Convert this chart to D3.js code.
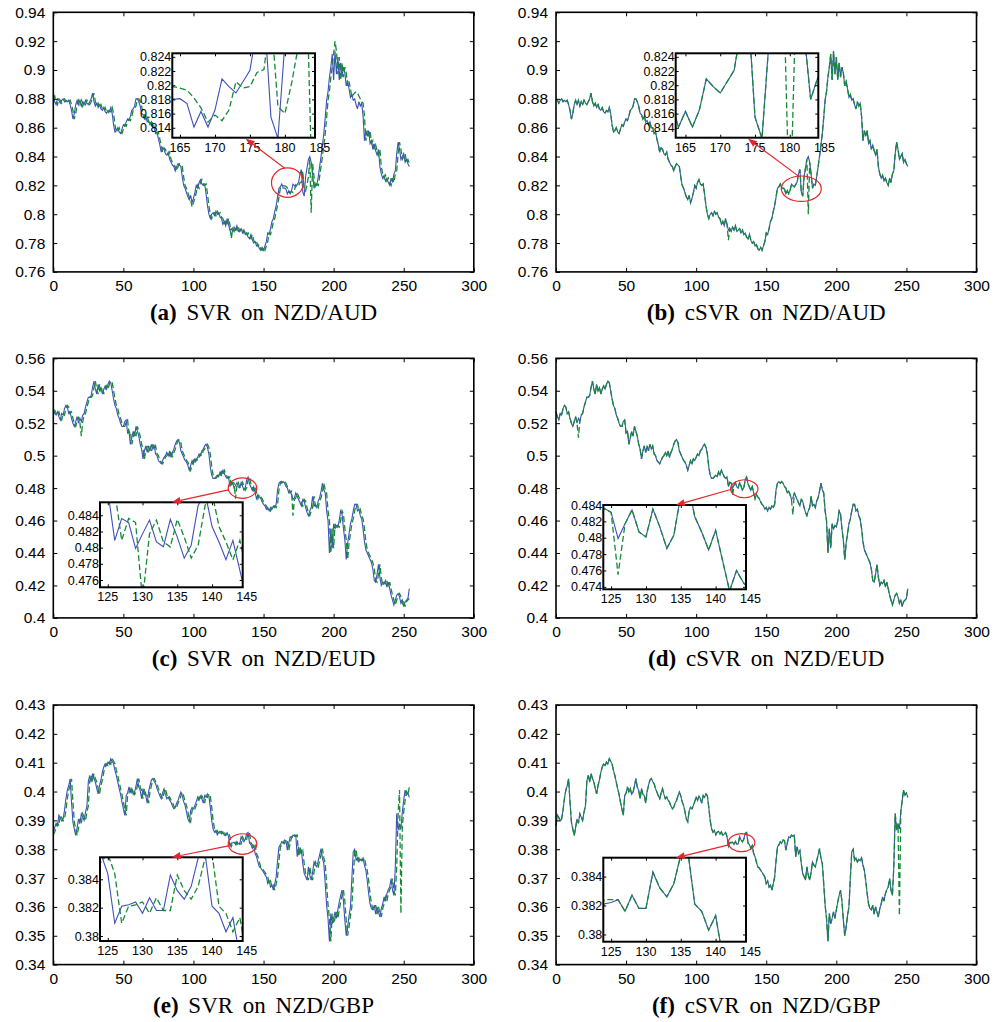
<!DOCTYPE html>
<html>
<head>
<meta charset="utf-8">
<script src="https://cdn.jsdelivr.net/npm/d3@7"></script>
<style>
  body { margin: 0; background: #fff; }
  svg { font-family: "Liberation Sans", Arial, sans-serif; }
</style>
</head>
<body>
<svg id="fig" width="1003" height="1022"></svg>
<script>
// Tick values
var xTicks = [0, 50, 100, 150, 200, 250, 300];
var audTicks = [0.76, 0.78, 0.8, 0.82, 0.84, 0.86, 0.88, 0.9, 0.92, 0.94];
var eudTicks = [0.4, 0.42, 0.44, 0.46, 0.48, 0.5, 0.52, 0.54, 0.56];
var gbpTicks = [0.34, 0.35, 0.36, 0.37, 0.38, 0.39, 0.4, 0.41, 0.42, 0.43];
var audInsetX = [165, 170, 175, 180, 185];
var audInsetY = [0.814, 0.816, 0.818, 0.82, 0.822, 0.824];
var eudInsetX = [125, 130, 135, 140, 145];
var eudSvrInsetY = [0.476, 0.478, 0.48, 0.482, 0.484];
var eudCsvrInsetY = [0.474, 0.476, 0.478, 0.48, 0.482, 0.484];
var gbpInsetY = [0.38, 0.382, 0.384];

// NZD/AUD actual rate, day 0..254
var audActual = [
0.882,0.878,0.876,0.880,0.879,0.877,0.879,0.880,0.878,0.879,
0.878,0.879,0.876,0.872,0.866,0.870,0.876,0.879,0.876,0.879,
0.875,0.878,0.876,0.879,0.877,0.876,0.878,0.880,0.884,0.878,
0.875,0.877,0.874,0.876,0.873,0.872,0.874,0.871,0.870,0.872,
0.871,0.874,0.870,0.862,0.857,0.858,0.860,0.857,0.856,0.859,
0.862,0.861,0.864,0.866,0.865,0.868,0.872,0.873,0.875,0.880,
0.880,0.878,0.875,0.870,0.869,0.866,0.868,0.864,0.865,0.862,
0.864,0.860,0.860,0.856,0.857,0.852,0.848,0.843,0.846,0.845,
0.842,0.841,0.843,0.838,0.836,0.834,0.833,0.830,0.833,0.835,
0.834,0.833,0.826,0.820,0.818,0.815,0.812,0.810,0.813,0.808,
0.811,0.815,0.820,0.818,0.822,0.824,0.821,0.820,0.821,0.814,
0.806,0.800,0.797,0.800,0.801,0.799,0.802,0.800,0.801,0.798,
0.797,0.793,0.795,0.792,0.797,0.793,0.789,0.790,0.788,0.791,
0.789,0.792,0.788,0.789,0.790,0.787,0.789,0.786,0.787,0.784,
0.783,0.786,0.782,0.780,0.781,0.778,0.779,0.776,0.775,0.777,
0.775,0.778,0.781,0.787,0.786,0.790,0.795,0.797,0.802,0.806,
0.812,0.818,0.819,0.821,0.818,0.8181,0.8174,0.8141,0.8163,0.8141,
0.8165,0.8209,0.8198,0.8189,0.8205,0.8221,0.828,0.831,0.8155,0.8125,
0.826,0.832,0.838,0.840,0.836,0.828,0.818,0.821,0.820,0.826,
0.833,0.840,0.848,0.856,0.867,0.879,0.885,0.895,0.902,0.911,
0.893,0.913,0.897,0.909,0.893,0.905,0.895,0.902,0.898,0.889,
0.892,0.887,0.881,0.883,0.879,0.880,0.876,0.873,0.878,0.875,
0.877,0.868,0.851,0.858,0.854,0.858,0.849,0.851,0.845,0.848,
0.844,0.841,0.845,0.833,0.828,0.825,0.827,0.823,0.825,0.822,
0.820,0.825,0.822,0.828,0.830,0.842,0.850,0.845,0.838,0.840,
0.842,0.836,0.838,0.835,0.833];

// NZD/AUD, SVR prediction
var audSvr = [
0.880,0.882,0.878,0.876,0.880,0.879,0.877,0.879,0.880,0.878,
0.879,0.878,0.879,0.876,0.872,0.866,0.870,0.876,0.879,0.876,
0.879,0.875,0.878,0.876,0.879,0.877,0.876,0.878,0.880,0.884,
0.878,0.875,0.877,0.874,0.876,0.873,0.872,0.874,0.871,0.870,
0.872,0.871,0.874,0.870,0.862,0.857,0.858,0.860,0.857,0.856,
0.859,0.862,0.861,0.864,0.866,0.865,0.868,0.872,0.873,0.875,
0.880,0.880,0.878,0.875,0.870,0.869,0.866,0.868,0.864,0.865,
0.862,0.864,0.860,0.860,0.856,0.857,0.852,0.848,0.843,0.846,
0.845,0.842,0.841,0.843,0.838,0.836,0.834,0.833,0.830,0.833,
0.835,0.834,0.833,0.826,0.820,0.818,0.815,0.812,0.810,0.805,
0.808,0.811,0.815,0.820,0.818,0.822,0.824,0.821,0.820,0.821,
0.814,0.806,0.800,0.797,0.800,0.801,0.799,0.802,0.800,0.801,
0.798,0.797,0.793,0.795,0.792,0.797,0.793,0.783,0.790,0.788,
0.791,0.789,0.792,0.788,0.789,0.790,0.787,0.789,0.786,0.787,
0.784,0.783,0.786,0.782,0.780,0.781,0.778,0.779,0.776,0.775,
0.777,0.775,0.778,0.781,0.787,0.786,0.790,0.795,0.797,0.802,
0.806,0.812,0.818,0.819,0.8198,0.8196,0.8193,0.8182,0.8168,0.8148,
0.8158,0.8150,0.8165,0.8205,0.8196,0.8198,0.8218,0.8222,0.8300,0.8170,
0.8160,0.8205,0.8260,0.8380,0.8010,0.8350,0.826,0.818,0.821,0.820,
0.826,0.833,0.840,0.848,0.856,0.867,0.879,0.885,0.895,0.902,
0.911,0.920,0.913,0.897,0.909,0.893,0.905,0.895,0.902,0.898,
0.889,0.892,0.887,0.881,0.883,0.884,0.885,0.884,0.882,0.880,
0.878,0.877,0.868,0.851,0.858,0.854,0.858,0.849,0.851,0.845,
0.848,0.844,0.841,0.845,0.833,0.828,0.825,0.827,0.823,0.825,
0.822,0.820,0.825,0.822,0.828,0.830,0.842,0.850,0.845,0.838,
0.840,0.842,0.836,0.838,0.835];

// NZD/AUD, cSVR prediction (starts 3 days later)
var audCsvr = [
0.880,0.879,0.877,0.879,0.880,0.878,0.879,0.878,0.879,0.876,
0.872,0.866,0.870,0.876,0.879,0.876,0.879,0.875,0.878,0.876,
0.879,0.877,0.876,0.878,0.880,0.884,0.878,0.875,0.877,0.874,
0.876,0.873,0.872,0.874,0.871,0.870,0.872,0.871,0.874,0.870,
0.862,0.857,0.858,0.860,0.857,0.856,0.859,0.862,0.861,0.864,
0.866,0.865,0.868,0.872,0.873,0.875,0.880,0.880,0.878,0.875,
0.870,0.869,0.866,0.868,0.864,0.865,0.862,0.864,0.860,0.860,
0.856,0.857,0.852,0.848,0.843,0.846,0.845,0.842,0.841,0.843,
0.838,0.836,0.834,0.833,0.830,0.833,0.835,0.834,0.833,0.826,
0.820,0.818,0.815,0.812,0.810,0.813,0.808,0.811,0.815,0.820,
0.818,0.822,0.824,0.821,0.820,0.821,0.814,0.806,0.800,0.797,
0.800,0.801,0.799,0.802,0.800,0.801,0.798,0.797,0.793,0.795,
0.792,0.797,0.793,0.782,0.790,0.788,0.791,0.789,0.792,0.788,
0.789,0.790,0.787,0.789,0.786,0.787,0.784,0.783,0.786,0.782,
0.780,0.781,0.778,0.779,0.776,0.775,0.777,0.775,0.778,0.781,
0.787,0.786,0.790,0.795,0.797,0.802,0.806,0.812,0.818,0.819,
0.821,0.818,0.8181,0.8174,0.8141,0.8163,0.8141,0.8165,0.8209,0.8198,
0.8189,0.8205,0.8221,0.828,0.831,0.8155,0.8125,0.826,0.832,0.838,
0.800,0.836,0.828,0.818,0.821,0.820,0.826,0.833,0.840,0.848,
0.856,0.867,0.879,0.885,0.895,0.902,0.911,0.893,0.913,0.897,
0.909,0.893,0.905,0.895,0.902,0.898,0.889,0.892,0.887,0.881,
0.883,0.879,0.880,0.876,0.873,0.878,0.875,0.877,0.868,0.851,
0.858,0.854,0.858,0.849,0.851,0.845,0.848,0.844,0.841,0.845,
0.833,0.828,0.825,0.827,0.823,0.825,0.822,0.820,0.825,0.822,
0.828,0.830,0.842,0.850,0.845,0.838,0.840,0.842,0.836,0.838,
0.835,0.833];

// NZD/EUD actual rate
var eudActual = [
0.528,0.526,0.525,0.527,0.524,0.522,0.526,0.525,0.529,0.531,
0.530,0.526,0.527,0.523,0.520,0.518,0.521,0.524,0.520,0.523,
0.521,0.525,0.526,0.530,0.533,0.536,0.536,0.537,0.542,0.546,
0.541,0.538,0.544,0.540,0.542,0.538,0.541,0.543,0.541,0.544,
0.546,0.545,0.540,0.535,0.531,0.529,0.525,0.523,0.520,0.518,
0.518,0.521,0.522,0.514,0.515,0.507,0.511,0.515,0.512,0.518,
0.515,0.512,0.507,0.504,0.498,0.503,0.506,0.502,0.506,0.503,
0.507,0.504,0.506,0.501,0.500,0.497,0.496,0.495,0.497,0.499,
0.500,0.502,0.500,0.503,0.499,0.502,0.504,0.507,0.509,0.510,
0.508,0.503,0.501,0.499,0.497,0.496,0.494,0.491,0.494,0.497,
0.495,0.498,0.497,0.499,0.501,0.500,0.503,0.504,0.506,0.507,
0.505,0.501,0.493,0.488,0.486,0.486,0.487,0.488,0.487,0.490,
0.488,0.491,0.489,0.487,0.486,0.487,0.4809,0.4836,0.4831,0.4799,
0.4817,0.4834,0.4807,0.4801,0.4835,0.4813,0.4787,0.4803,0.4852,0.4868,
0.4826,0.4807,0.4785,0.4809,0.4772,0.4735,0.4760,0.4745,0.4735,0.4715,
0.470,0.469,0.467,0.468,0.466,0.468,0.467,0.469,0.468,0.470,
0.479,0.483,0.484,0.483,0.484,0.483,0.481,0.480,0.477,0.478,
0.476,0.473,0.474,0.477,0.475,0.473,0.471,0.469,0.473,0.472,
0.468,0.465,0.463,0.466,0.468,0.475,0.469,0.470,0.468,0.472,
0.474,0.478,0.483,0.479,0.477,0.466,0.460,0.440,0.455,0.443,
0.458,0.455,0.457,0.456,0.460,0.466,0.464,0.455,0.448,0.436,
0.446,0.452,0.458,0.461,0.466,0.470,0.470,0.466,0.467,0.463,
0.461,0.455,0.447,0.442,0.440,0.438,0.436,0.434,0.430,0.423,
0.422,0.427,0.433,0.425,0.420,0.422,0.421,0.423,0.419,0.422,
0.418,0.414,0.411,0.408,0.411,0.414,0.415,0.413,0.409,0.411,
0.407,0.410,0.411,0.412,0.418];

var eudSvr = [
0.527,0.528,0.526,0.525,0.527,0.524,0.522,0.526,0.525,0.529,
0.531,0.530,0.526,0.527,0.523,0.520,0.518,0.521,0.524,0.520,
0.512,0.521,0.525,0.526,0.530,0.533,0.536,0.536,0.537,0.542,
0.546,0.541,0.538,0.544,0.540,0.542,0.538,0.541,0.543,0.541,
0.544,0.546,0.545,0.540,0.535,0.531,0.529,0.525,0.523,0.520,
0.518,0.518,0.521,0.522,0.514,0.515,0.507,0.511,0.515,0.512,
0.518,0.515,0.512,0.507,0.504,0.498,0.503,0.506,0.502,0.506,
0.503,0.507,0.504,0.506,0.501,0.500,0.497,0.496,0.495,0.497,
0.499,0.500,0.502,0.500,0.503,0.499,0.502,0.504,0.507,0.509,
0.510,0.508,0.503,0.501,0.499,0.497,0.496,0.494,0.491,0.494,
0.497,0.495,0.498,0.497,0.499,0.501,0.500,0.503,0.504,0.506,
0.507,0.505,0.501,0.493,0.488,0.486,0.486,0.487,0.488,0.487,
0.490,0.488,0.491,0.489,0.487,0.486,0.487,0.4809,0.4836,0.4831,
0.4735,0.4817,0.4834,0.4807,0.4801,0.4835,0.4813,0.4787,0.4803,0.4852,
0.4868,0.4826,0.4807,0.4785,0.4809,0.4772,0.4735,0.4760,0.4745,0.4735,
0.4715,0.470,0.469,0.467,0.468,0.466,0.468,0.467,0.469,0.468,
0.470,0.479,0.483,0.484,0.483,0.484,0.483,0.481,0.480,0.477,
0.478,0.463,0.473,0.474,0.477,0.475,0.473,0.471,0.469,0.473,
0.472,0.468,0.465,0.463,0.466,0.468,0.475,0.469,0.470,0.468,
0.472,0.474,0.478,0.483,0.479,0.477,0.466,0.460,0.440,0.455,
0.443,0.458,0.455,0.457,0.456,0.460,0.466,0.464,0.455,0.448,
0.436,0.446,0.452,0.458,0.461,0.466,0.470,0.470,0.466,0.467,
0.463,0.461,0.455,0.447,0.442,0.440,0.438,0.436,0.434,0.430,
0.423,0.422,0.427,0.433,0.425,0.420,0.422,0.421,0.423,0.419,
0.422,0.418,0.414,0.411,0.408,0.411,0.414,0.415,0.413,0.409,
0.411,0.407,0.410,0.411,0.412];

var eudCsvr = [
0.527,0.524,0.522,0.526,0.525,0.529,0.531,0.530,0.526,0.527,
0.523,0.520,0.518,0.521,0.524,0.520,0.511,0.521,0.525,0.526,
0.530,0.533,0.536,0.536,0.537,0.542,0.546,0.541,0.538,0.544,
0.540,0.542,0.538,0.541,0.543,0.541,0.544,0.546,0.545,0.540,
0.535,0.531,0.529,0.525,0.523,0.520,0.518,0.518,0.521,0.522,
0.514,0.515,0.507,0.511,0.515,0.512,0.518,0.515,0.512,0.507,
0.504,0.498,0.503,0.506,0.502,0.506,0.503,0.507,0.504,0.506,
0.501,0.500,0.497,0.496,0.495,0.497,0.499,0.500,0.502,0.500,
0.503,0.499,0.502,0.504,0.507,0.509,0.510,0.508,0.503,0.501,
0.499,0.497,0.496,0.494,0.491,0.494,0.497,0.495,0.498,0.497,
0.499,0.501,0.500,0.503,0.504,0.506,0.507,0.505,0.501,0.493,
0.488,0.486,0.486,0.487,0.488,0.487,0.490,0.488,0.491,0.489,
0.487,0.486,0.487,0.4809,0.4836,0.4831,0.4755,0.4817,0.4834,0.4807,
0.4801,0.4835,0.4813,0.4787,0.4803,0.4852,0.4868,0.4826,0.4807,0.4785,
0.4809,0.4772,0.4735,0.4760,0.4745,0.4735,0.4715,0.470,0.469,0.467,
0.468,0.466,0.468,0.467,0.469,0.468,0.470,0.479,0.483,0.484,
0.483,0.484,0.483,0.481,0.480,0.477,0.478,0.476,0.473,0.4635,
0.477,0.475,0.473,0.471,0.469,0.473,0.472,0.468,0.465,0.463,
0.466,0.468,0.475,0.469,0.470,0.468,0.472,0.474,0.478,0.483,
0.479,0.477,0.466,0.460,0.440,0.455,0.443,0.458,0.455,0.457,
0.456,0.460,0.466,0.464,0.455,0.448,0.436,0.446,0.452,0.458,
0.461,0.466,0.470,0.470,0.466,0.467,0.463,0.461,0.455,0.447,
0.442,0.440,0.438,0.436,0.434,0.430,0.423,0.422,0.427,0.433,
0.425,0.420,0.422,0.421,0.423,0.419,0.422,0.418,0.414,0.411,
0.408,0.411,0.414,0.415,0.413,0.409,0.411,0.407,0.410,0.411,
0.412,0.418];

// NZD/GBP actual rate
var gbpActual = [
0.3860,0.3875,0.3890,0.3882,0.3918,0.3910,0.3898,0.3905,0.3935,0.3975,
0.4005,0.4020,0.4044,0.3963,0.3894,0.3870,0.3848,0.3875,0.3905,0.3890,
0.3923,0.3911,0.3900,0.3929,0.3950,0.4035,0.4056,0.4033,0.4062,0.4045,
0.4033,0.4010,0.3992,0.4021,0.4040,0.4067,0.4085,0.4096,0.4090,0.4102,
0.4095,0.4114,0.4105,0.4096,0.4073,0.4055,0.4033,0.4010,0.3990,0.3963,
0.3940,0.3917,0.3986,0.3995,0.4016,0.3998,0.4010,0.3990,0.3998,0.4020,
0.4045,0.4015,0.4004,0.3975,0.4010,0.3990,0.3986,0.3960,0.4000,0.4021,
0.4040,0.4045,0.4035,0.4027,0.4010,0.3998,0.3985,0.3975,0.3995,0.4010,
0.3990,0.3975,0.3981,0.3970,0.3963,0.3950,0.3940,0.3946,0.3960,0.3969,
0.3985,0.3998,0.3985,0.3965,0.3952,0.3930,0.3905,0.3895,0.3934,0.3945,
0.3940,0.3952,0.3965,0.3981,0.3970,0.3985,0.3975,0.3960,0.3986,0.3980,
0.3992,0.3985,0.3946,0.3900,0.3871,0.3859,0.3865,0.3850,0.3859,0.3862,
0.3853,0.3860,0.3848,0.3852,0.3858,0.3844,0.3809,0.3821,0.3822,0.3824,
0.3816,0.3827,0.3818,0.3818,0.3843,0.3832,0.3826,0.3835,0.3855,0.3858,
0.3821,0.3816,0.3803,0.3813,0.3785,0.3774,0.3755,0.3739,0.3735,0.3727,
0.3720,0.3712,0.3704,0.3681,0.3690,0.3669,0.3675,0.3658,0.3680,0.3704,
0.3760,0.3808,0.3815,0.3826,0.3820,0.3832,0.3830,0.3797,0.3820,0.3843,
0.3840,0.3849,0.3845,0.3849,0.3774,0.3808,0.3785,0.3795,0.3750,0.3716,
0.3705,0.3693,0.3739,0.3710,0.3693,0.3720,0.3756,0.3745,0.3739,0.3760,
0.3780,0.3802,0.3770,0.3750,0.3680,0.3606,0.3560,0.3480,0.3577,0.3542,
0.3560,0.3583,0.3560,0.3590,0.3617,0.3640,0.3658,0.3620,0.3554,0.3500,
0.3531,0.3570,0.3600,0.3700,0.3791,0.3800,0.3762,0.3770,0.3756,0.3765,
0.3760,0.3770,0.3745,0.3727,0.3690,0.3646,0.3610,0.3594,0.3590,0.3606,
0.3575,0.3600,0.3583,0.3565,0.3594,0.3610,0.3635,0.3620,0.3646,0.3660,
0.3669,0.3698,0.3658,0.3640,0.3739,0.3924,0.3866,0.3889,0.3870,0.3930,
0.3970,0.4005,0.3988,0.3995,0.3980];

var gbpSvr = [
0.3850,0.3860,0.3875,0.3890,0.3882,0.3918,0.3910,0.3898,0.3905,0.3935,
0.3975,0.4005,0.4020,0.4044,0.3963,0.3894,0.3870,0.3848,0.3875,0.3905,
0.3890,0.3923,0.3911,0.3900,0.3929,0.3950,0.4035,0.4056,0.4033,0.4062,
0.4045,0.4033,0.4010,0.3992,0.4021,0.4040,0.4067,0.4085,0.4096,0.4090,
0.4102,0.4095,0.4114,0.4105,0.4096,0.4073,0.4055,0.4033,0.4010,0.3990,
0.3963,0.3940,0.3917,0.3986,0.3995,0.4016,0.3998,0.4010,0.3990,0.3998,
0.4020,0.4045,0.4015,0.4004,0.3975,0.4010,0.3990,0.3986,0.3960,0.4000,
0.4021,0.4040,0.4045,0.4035,0.4027,0.4010,0.3998,0.3985,0.3975,0.3995,
0.4010,0.3990,0.3975,0.3981,0.3970,0.3963,0.3950,0.3940,0.3946,0.3960,
0.3969,0.3985,0.3998,0.3985,0.3965,0.3952,0.3930,0.3905,0.3895,0.3934,
0.3945,0.3940,0.3952,0.3965,0.3981,0.3970,0.3985,0.3975,0.3960,0.3986,
0.3980,0.3992,0.3985,0.3946,0.3900,0.3871,0.3859,0.3865,0.3850,0.3859,
0.3862,0.3853,0.3860,0.3848,0.3852,0.3858,0.3844,0.3809,0.3821,0.3822,
0.3824,0.3816,0.3827,0.3818,0.3818,0.3843,0.3832,0.3826,0.3835,0.3855,
0.3858,0.3821,0.3816,0.3803,0.3813,0.3785,0.3774,0.3755,0.3739,0.3735,
0.3727,0.3720,0.3712,0.3704,0.3681,0.3690,0.3669,0.3675,0.3658,0.3680,
0.3704,0.3760,0.3808,0.3815,0.3826,0.3820,0.3832,0.3830,0.3797,0.3820,
0.3843,0.3840,0.3849,0.3845,0.3849,0.3774,0.3808,0.3785,0.3795,0.3750,
0.3716,0.3705,0.3693,0.3739,0.3710,0.3693,0.3720,0.3756,0.3745,0.3739,
0.3760,0.3780,0.3802,0.3770,0.3750,0.3680,0.3606,0.3560,0.3480,0.3577,
0.3542,0.3560,0.3583,0.3560,0.3590,0.3617,0.3640,0.3658,0.3620,0.3554,
0.3500,0.3531,0.3570,0.3600,0.3700,0.3791,0.3800,0.3762,0.3770,0.3756,
0.3765,0.3760,0.3770,0.3745,0.3727,0.3690,0.3646,0.3610,0.3594,0.3590,
0.3606,0.3575,0.3600,0.3583,0.3565,0.3594,0.3610,0.3635,0.3620,0.3646,
0.3660,0.3669,0.3698,0.3658,0.3640,0.3739,0.3924,0.4005,0.3577,0.3880,
0.3930,0.3970,0.4000,0.3990,0.4015];

var gbpCsvr = [
0.3882,0.3918,0.3910,0.3898,0.3905,0.3935,0.3975,0.4005,0.4020,0.4044,
0.3963,0.3894,0.3870,0.3848,0.3875,0.3905,0.3890,0.3923,0.3911,0.3900,
0.3929,0.3950,0.4035,0.4056,0.4033,0.4062,0.4045,0.4033,0.4010,0.3992,
0.4021,0.4040,0.4067,0.4085,0.4096,0.4090,0.4102,0.4095,0.4114,0.4105,
0.4096,0.4073,0.4055,0.4033,0.4010,0.3990,0.3963,0.3940,0.3917,0.3986,
0.3995,0.4016,0.3998,0.4010,0.3990,0.3998,0.4020,0.4045,0.4015,0.4004,
0.3975,0.4010,0.3990,0.3986,0.3960,0.4000,0.4021,0.4040,0.4045,0.4035,
0.4027,0.4010,0.3998,0.3985,0.3975,0.3995,0.4010,0.3990,0.3975,0.3981,
0.3970,0.3963,0.3950,0.3940,0.3946,0.3960,0.3969,0.3985,0.3998,0.3985,
0.3965,0.3952,0.3930,0.3905,0.3895,0.3934,0.3945,0.3940,0.3952,0.3965,
0.3981,0.3970,0.3985,0.3975,0.3960,0.3986,0.3980,0.3992,0.3985,0.3946,
0.3900,0.3871,0.3859,0.3865,0.3850,0.3859,0.3862,0.3853,0.3860,0.3848,
0.3852,0.3858,0.3844,0.3809,0.3824,0.3824,0.3824,0.3816,0.3827,0.3818,
0.3818,0.3843,0.3832,0.3826,0.3835,0.3855,0.3858,0.3821,0.3816,0.3803,
0.3813,0.3785,0.3774,0.3755,0.3739,0.3735,0.3727,0.3720,0.3712,0.3704,
0.3681,0.3690,0.3669,0.3675,0.3658,0.3680,0.3704,0.3760,0.3808,0.3815,
0.3826,0.3820,0.3832,0.3830,0.3797,0.3820,0.3843,0.3840,0.3849,0.3845,
0.3849,0.3774,0.3808,0.3785,0.3795,0.3750,0.3716,0.3705,0.3693,0.3739,
0.3710,0.3693,0.3720,0.3756,0.3745,0.3739,0.3760,0.3780,0.3802,0.3770,
0.3750,0.3680,0.3606,0.3560,0.3480,0.3577,0.3542,0.3560,0.3583,0.3560,
0.3590,0.3617,0.3640,0.3658,0.3620,0.3554,0.3500,0.3531,0.3570,0.3600,
0.3700,0.3791,0.3800,0.3762,0.3770,0.3756,0.3765,0.3760,0.3770,0.3745,
0.3727,0.3690,0.3646,0.3610,0.3594,0.3590,0.3606,0.3575,0.3600,0.3583,
0.3565,0.3594,0.3610,0.3635,0.3620,0.3646,0.3660,0.3669,0.3698,0.3658,
0.3640,0.3739,0.3924,0.3866,0.3889,0.3570,0.3930,0.3970,0.4005,0.3988,
0.3995,0.3980];

// colours of the figure
var colBlue = "#3f4fbb";
var colGreen = "#148a38";
var colRed = "#e2262b";

// panel grid
var colX = [53.3, 556];
var rowY = [12.3, 358.3, 705];
var plotW = 420.5;
var plotH = 259.6;

// one entry per sub figure
var panels = [
  { tag: "(a)", title: "SVR on NZD/AUD", actual: audActual, pred: audSvr, lag: 0, col: 0, row: 0,
    yDom: [0.76, 0.94], yTicks: audTicks,
    inset: { x: 119, y: 41, w: 142.7, h: 84.4, xDom: [163.9, 184.3], yDom: [0.8126, 0.8245], xTicks: audInsetX, yTicks: audInsetY },
    ring: { x: 167.1, y: 0.8219, rx: 16, ry: 14.7, angle: -100, tipX: 174.4, tipSide: "bottom" } },
  { tag: "(b)", title: "cSVR on NZD/AUD", actual: audActual, pred: audCsvr, lag: 3, col: 1, row: 0,
    yDom: [0.76, 0.94], yTicks: audTicks,
    inset: { x: 119.7, y: 41, w: 142.6, h: 84.4, xDom: [163.6, 184.1], yDom: [0.8126, 0.8245], xTicks: audInsetX, yTicks: audInsetY },
    ring: { x: 175, y: 0.8177, rx: 20, ry: 12.7, angle: -98, tipX: 174.0, tipSide: "bottom" } },
  { tag: "(c)", title: " SVR on NZD/EUD", actual: eudActual, pred: eudSvr, lag: 0, col: 0, row: 1,
    yDom: [0.4, 0.56], yTicks: eudTicks,
    inset: { x: 46.7, y: 144, w: 142.7, h: 85, xDom: [123.88, 144.41], yDom: [0.4751, 0.4856], xTicks: eudInsetX, yTicks: eudSvrInsetY },
    ring: { x: 135, y: 0.48, rx: 14.3, ry: 10.3, angle: 170, tipX: 134.2, tipSide: "top" } },
  { tag: "(d)", title: "cSVR on NZD/EUD", actual: eudActual, pred: eudCsvr, lag: 3, col: 1, row: 1,
    yDom: [0.4, 0.56], yTicks: eudTicks,
    inset: { x: 47.3, y: 146.7, w: 142.7, h: 84.3, xDom: [123.88, 144.36], yDom: [0.4737, 0.484], xTicks: eudInsetX, yTicks: eudCsvrInsetY },
    ring: { x: 134.3, y: 0.4796, rx: 13.7, ry: 9, angle: 175, tipX: 134.3, tipSide: "top" } },
  { tag: "(e)", title: "SVR on NZD/GBP", actual: gbpActual, pred: gbpSvr, lag: 0, col: 0, row: 2,
    yDom: [0.34, 0.43], yTicks: gbpTicks,
    inset: { x: 46.7, y: 152.3, w: 142.7, h: 83.7, xDom: [123.88, 144.41], yDom: [0.37965, 0.38555], xTicks: eudInsetX, yTicks: gbpInsetY },
    ring: { x: 135, y: 0.3818, rx: 14.3, ry: 10.3, angle: 170, tipX: 134.2, tipSide: "top" } },
  { tag: "(f)", title: "cSVR on NZD/GBP", actual: gbpActual, pred: gbpCsvr, lag: 3, col: 1, row: 2,
    yDom: [0.34, 0.43], yTicks: gbpTicks,
    inset: { x: 47.3, y: 152.7, w: 142.7, h: 84, xDom: [123.88, 144.36], yDom: [0.3795, 0.3853], xTicks: eudInsetX, yTicks: gbpInsetY },
    ring: { x: 132.4, y: 0.3823, rx: 13.3, ry: 9, angle: 165, tipX: 134.3, tipSide: "top" } }
];

var fig = d3.select("#fig");

// draw the blue real series and the green dashed prediction
function drawSeries(g, real, pred, x, y, clipId) {
  var line = d3.line().x(function(d, i) { return x(i); }).y(function(d) { return y(d); });
  var s = g.append("g");
  if (clipId) s.attr("clip-path", "url(#" + clipId + ")");
  s.append("path").attr("d", line(real))
    .attr("fill", "none").attr("stroke", colBlue).attr("stroke-width", 1.1);
  s.append("path").attr("d", line(pred))
    .attr("fill", "none").attr("stroke", colGreen).attr("stroke-width", 1.3)
    .attr("stroke-dasharray", "6,3");
}

function styleAxis(a, size) {
  a.select(".domain").remove();
  a.selectAll("line").attr("stroke", "#000").attr("stroke-width", 1);
  a.selectAll("text").attr("font-family", "Liberation Sans, Arial, sans-serif")
    .attr("font-size", size).attr("fill", "#000");
}

panels.forEach(function(p, k) {
  var g = fig.append("g").attr("transform", "translate(" + colX[p.col] + "," + rowY[p.row] + ")");
  var x = d3.scaleLinear().domain([0, 300]).range([0, plotW]);
  var y = d3.scaleLinear().domain(p.yDom).range([plotH, 0]);
  var real = p.actual.slice(p.lag);

  drawSeries(g, real, p.pred, x, y, null);

  // axes with inward ticks on the four sides
  styleAxis(g.append("g").call(d3.axisLeft(y).tickValues(p.yTicks).tickSizeInner(-4).tickSizeOuter(0).tickPadding(8).tickFormat(String)), 15.5);
  styleAxis(g.append("g").attr("transform", "translate(" + plotW + ",0)")
    .call(d3.axisRight(y).tickValues(p.yTicks).tickSizeInner(-4).tickSizeOuter(0).tickFormat("")), 15.5);
  styleAxis(g.append("g").attr("transform", "translate(0," + plotH + ")")
    .call(d3.axisBottom(x).tickValues(xTicks).tickSizeInner(-4).tickSizeOuter(0).tickPadding(8).tickFormat(String)), 15.5);
  styleAxis(g.append("g").call(d3.axisTop(x).tickValues(xTicks).tickSizeInner(-4).tickSizeOuter(0).tickFormat("")), 15.5);
  g.append("rect").attr("width", plotW).attr("height", plotH)
    .attr("fill", "none").attr("stroke", "#000").attr("stroke-width", 1.6);

  // red ring round the zoomed region
  var r = p.ring, ins = p.inset;
  var ix = d3.scaleLinear().domain(ins.xDom).range([0, ins.w]);
  var iy = d3.scaleLinear().domain(ins.yDom).range([ins.h, 0]);
  var cx = x(r.x), cy = y(r.y);
  g.append("ellipse").attr("cx", cx).attr("cy", cy).attr("rx", r.rx).attr("ry", r.ry)
    .attr("fill", "none").attr("stroke", colRed).attr("stroke-width", 1.2);

  // arrow from the ring to the inset
  var a = r.angle * Math.PI / 180;
  var sx = cx + r.rx * Math.cos(a), sy = cy + r.ry * Math.sin(a);
  var tx = ins.x + ix(r.tipX), ty = r.tipSide === "bottom" ? ins.y + ins.h + 1 : ins.y;
  var len = Math.hypot(tx - sx, ty - sy), ux = (tx - sx) / len, uy = (ty - sy) / len;
  var bx = tx - ux * 9, by = ty - uy * 9;

  // inset
  var gi = g.append("g").attr("transform", "translate(" + ins.x + "," + ins.y + ")");
  var clipId = "clip" + k;
  gi.append("clipPath").attr("id", clipId).append("rect").attr("width", ins.w).attr("height", ins.h);
  gi.append("rect").attr("width", ins.w).attr("height", ins.h).attr("fill", "#fff");
  drawSeries(gi, real, p.pred, ix, iy, clipId);
  var inX = ins.xTicks.filter(function(v) { return v >= ins.xDom[0] && v <= ins.xDom[1]; });
  styleAxis(gi.append("g").call(d3.axisLeft(iy).tickValues(ins.yTicks).tickSizeInner(-3).tickSizeOuter(0).tickPadding(1).tickFormat(String)), 12.5);
  styleAxis(gi.append("g").attr("transform", "translate(" + ins.w + ",0)")
    .call(d3.axisRight(iy).tickValues(ins.yTicks).tickSizeInner(-3).tickSizeOuter(0).tickFormat("")), 12.5);
  styleAxis(gi.append("g").attr("transform", "translate(0," + ins.h + ")")
    .call(d3.axisBottom(ix).tickValues(inX).tickSizeInner(-3).tickSizeOuter(0).tickFormat("")), 12.5);
  styleAxis(gi.append("g").call(d3.axisTop(ix).tickValues(inX).tickSizeInner(-3).tickSizeOuter(0).tickFormat("")), 12.5);
  gi.append("g").selectAll("text").data(ins.xTicks).enter().append("text")
    .attr("x", function(d) { return ix(d); }).attr("y", ins.h + 14)
    .attr("text-anchor", "middle").attr("font-size", 12.5).text(String);
  gi.append("rect").attr("width", ins.w).attr("height", ins.h)
    .attr("fill", "none").attr("stroke", "#000").attr("stroke-width", 2);

  g.append("line").attr("x1", sx).attr("y1", sy).attr("x2", bx).attr("y2", by)
    .attr("stroke", colRed).attr("stroke-width", 1.2);
  g.append("path")
    .attr("d", "M" + tx + "," + ty + "L" + (bx - uy * 3.5) + "," + (by + ux * 3.5) + "L" + (bx + uy * 3.5) + "," + (by - ux * 3.5) + "Z")
    .attr("fill", colRed);

  // caption in a serif face, bold panel letter
  var cap = g.append("text").attr("x", plotW / 2).attr("y", plotH + 48)
    .attr("text-anchor", "middle")
    .style("font-family", "'Liberation Serif', 'Times New Roman', serif")
    .attr("font-size", 23).attr("word-spacing", 4);
  cap.append("tspan").attr("font-weight", "bold").text(p.tag);
  cap.append("tspan").text(" " + p.title);
});
</script>
</body>
</html>
